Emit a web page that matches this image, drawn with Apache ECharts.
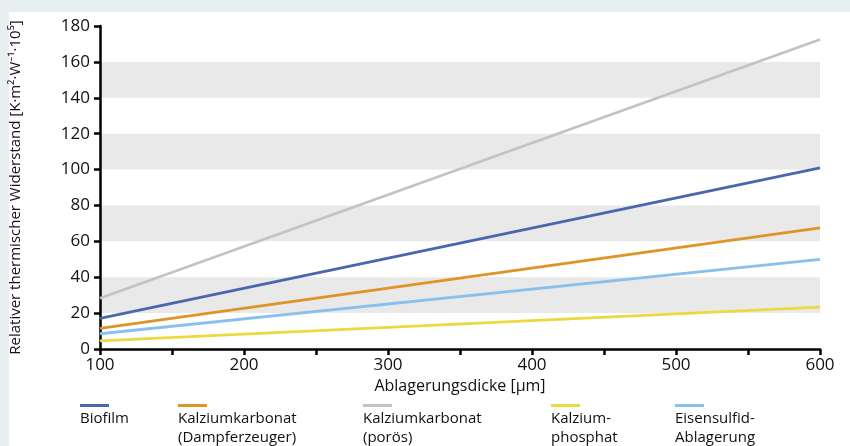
<!DOCTYPE html>
<html><head><meta charset="utf-8">
<script src="https://cdn.jsdelivr.net/npm/echarts@6/dist/echarts.min.js"></script>
<style>
html,body{margin:0;padding:0;background:#e8eff1;}
#wrap{position:relative;width:850px;height:446px;overflow:hidden;}
#panel{position:absolute;left:9px;top:12px;width:841px;height:434px;background:#fff;}
#chart{position:absolute;left:0;top:0;width:850px;height:446px;}
</style></head>
<body><div id="wrap"><div id="panel"></div><div id="chart"></div></div>
<script>
const xTicks = [100, 200, 300, 400, 500, 600];
const seriesNames = ['Biofilm', 'Kalziumkarbonat\n(Dampferzeuger)', 'Kalziumkarbonat\n(porös)', 'Kalzium-\nphosphat', 'Eisensulfid-\nAblagerung'];
const biofilm = [[100, 17], [600, 101]];
const kalkDampf = [[100, 11.5], [600, 67.5]];
const kalkPoroes = [[100, 28.3], [600, 172.5]];
const kalziumphosphat = [[100, 4.5], [600, 23.3]];
const eisensulfid = [[100, 8.5], [600, 50]];
const colors = ['#4a66ae', '#df9428', '#c3c3c3', '#ebd93d', '#88c1ed'];
const allData = [biofilm, kalkDampf, kalkPoroes, kalziumphosphat, eisensulfid];
const drawOrder = [2, 0, 1, 4, 3];

const font = '"Open Sans", "Noto Sans", sans-serif';
const chart = echarts.init(document.getElementById('chart'), null, {renderer: 'canvas'});
const legendX = [80, 178, 363, 551, 675];
const graphics = [];
seriesNames.forEach((n, i) => {
  graphics.push({type: 'rect', left: legendX[i], top: 404, shape: {width: 29, height: 3}, style: {fill: colors[i]}});
  graphics.push({type: 'text', left: legendX[i], top: 409, style: {text: n, font: '15px ' + font, fill: '#111', lineHeight: 19}});
});

chart.setOption({
  animation: false,
  backgroundColor: 'transparent',
  grid: {left: 98, right: 30, top: 26, bottom: 97, containLabel: false},
  xAxis: {
    type: 'value', min: 100, max: 600, interval: 100,
    name: 'Ablagerungsdicke [µm]', nameLocation: 'middle', nameGap: 27,
    nameTextStyle: {fontFamily: font, fontSize: 16, color: '#111'},
    axisLine: {show: true, onZero: false, lineStyle: {color: '#000', width: 2.5}},
    axisTick: {show: true, length: 6, lineStyle: {color: '#000', width: 2.5}},
    minorTick: {show: true, splitNumber: 2, length: 6, lineStyle: {color: '#000', width: 2.5}},
    axisLabel: {fontFamily: font, fontSize: 17, color: '#111', margin: 8},
    splitLine: {show: false}
  },
  yAxis: {
    type: 'value', min: 0, max: 180, interval: 20,
    name: 'Relativer thermischer Widerstand [K·m²·W⁻¹·10⁵]', nameLocation: 'middle', nameGap: 77, nameRotate: 90,
    nameTextStyle: {fontFamily: font, fontSize: 15, color: '#111'},
    axisLine: {show: true, lineStyle: {color: '#000', width: 2.5}},
    axisTick: {show: true, length: 6, lineStyle: {color: '#000', width: 2.5}},
    axisLabel: {fontFamily: font, fontSize: 17, color: '#111', margin: 10},
    splitLine: {show: false},
    splitArea: {show: true, areaStyle: {color: ['rgba(0,0,0,0)', '#e9e9e9']}}
  },
  graphic: graphics,
  series: drawOrder.map(i => ({
    name: seriesNames[i], type: 'line', data: allData[i], showSymbol: false,
    lineStyle: {color: colors[i], width: 2.8}, z: 3
  }))
});
</script></body></html>
